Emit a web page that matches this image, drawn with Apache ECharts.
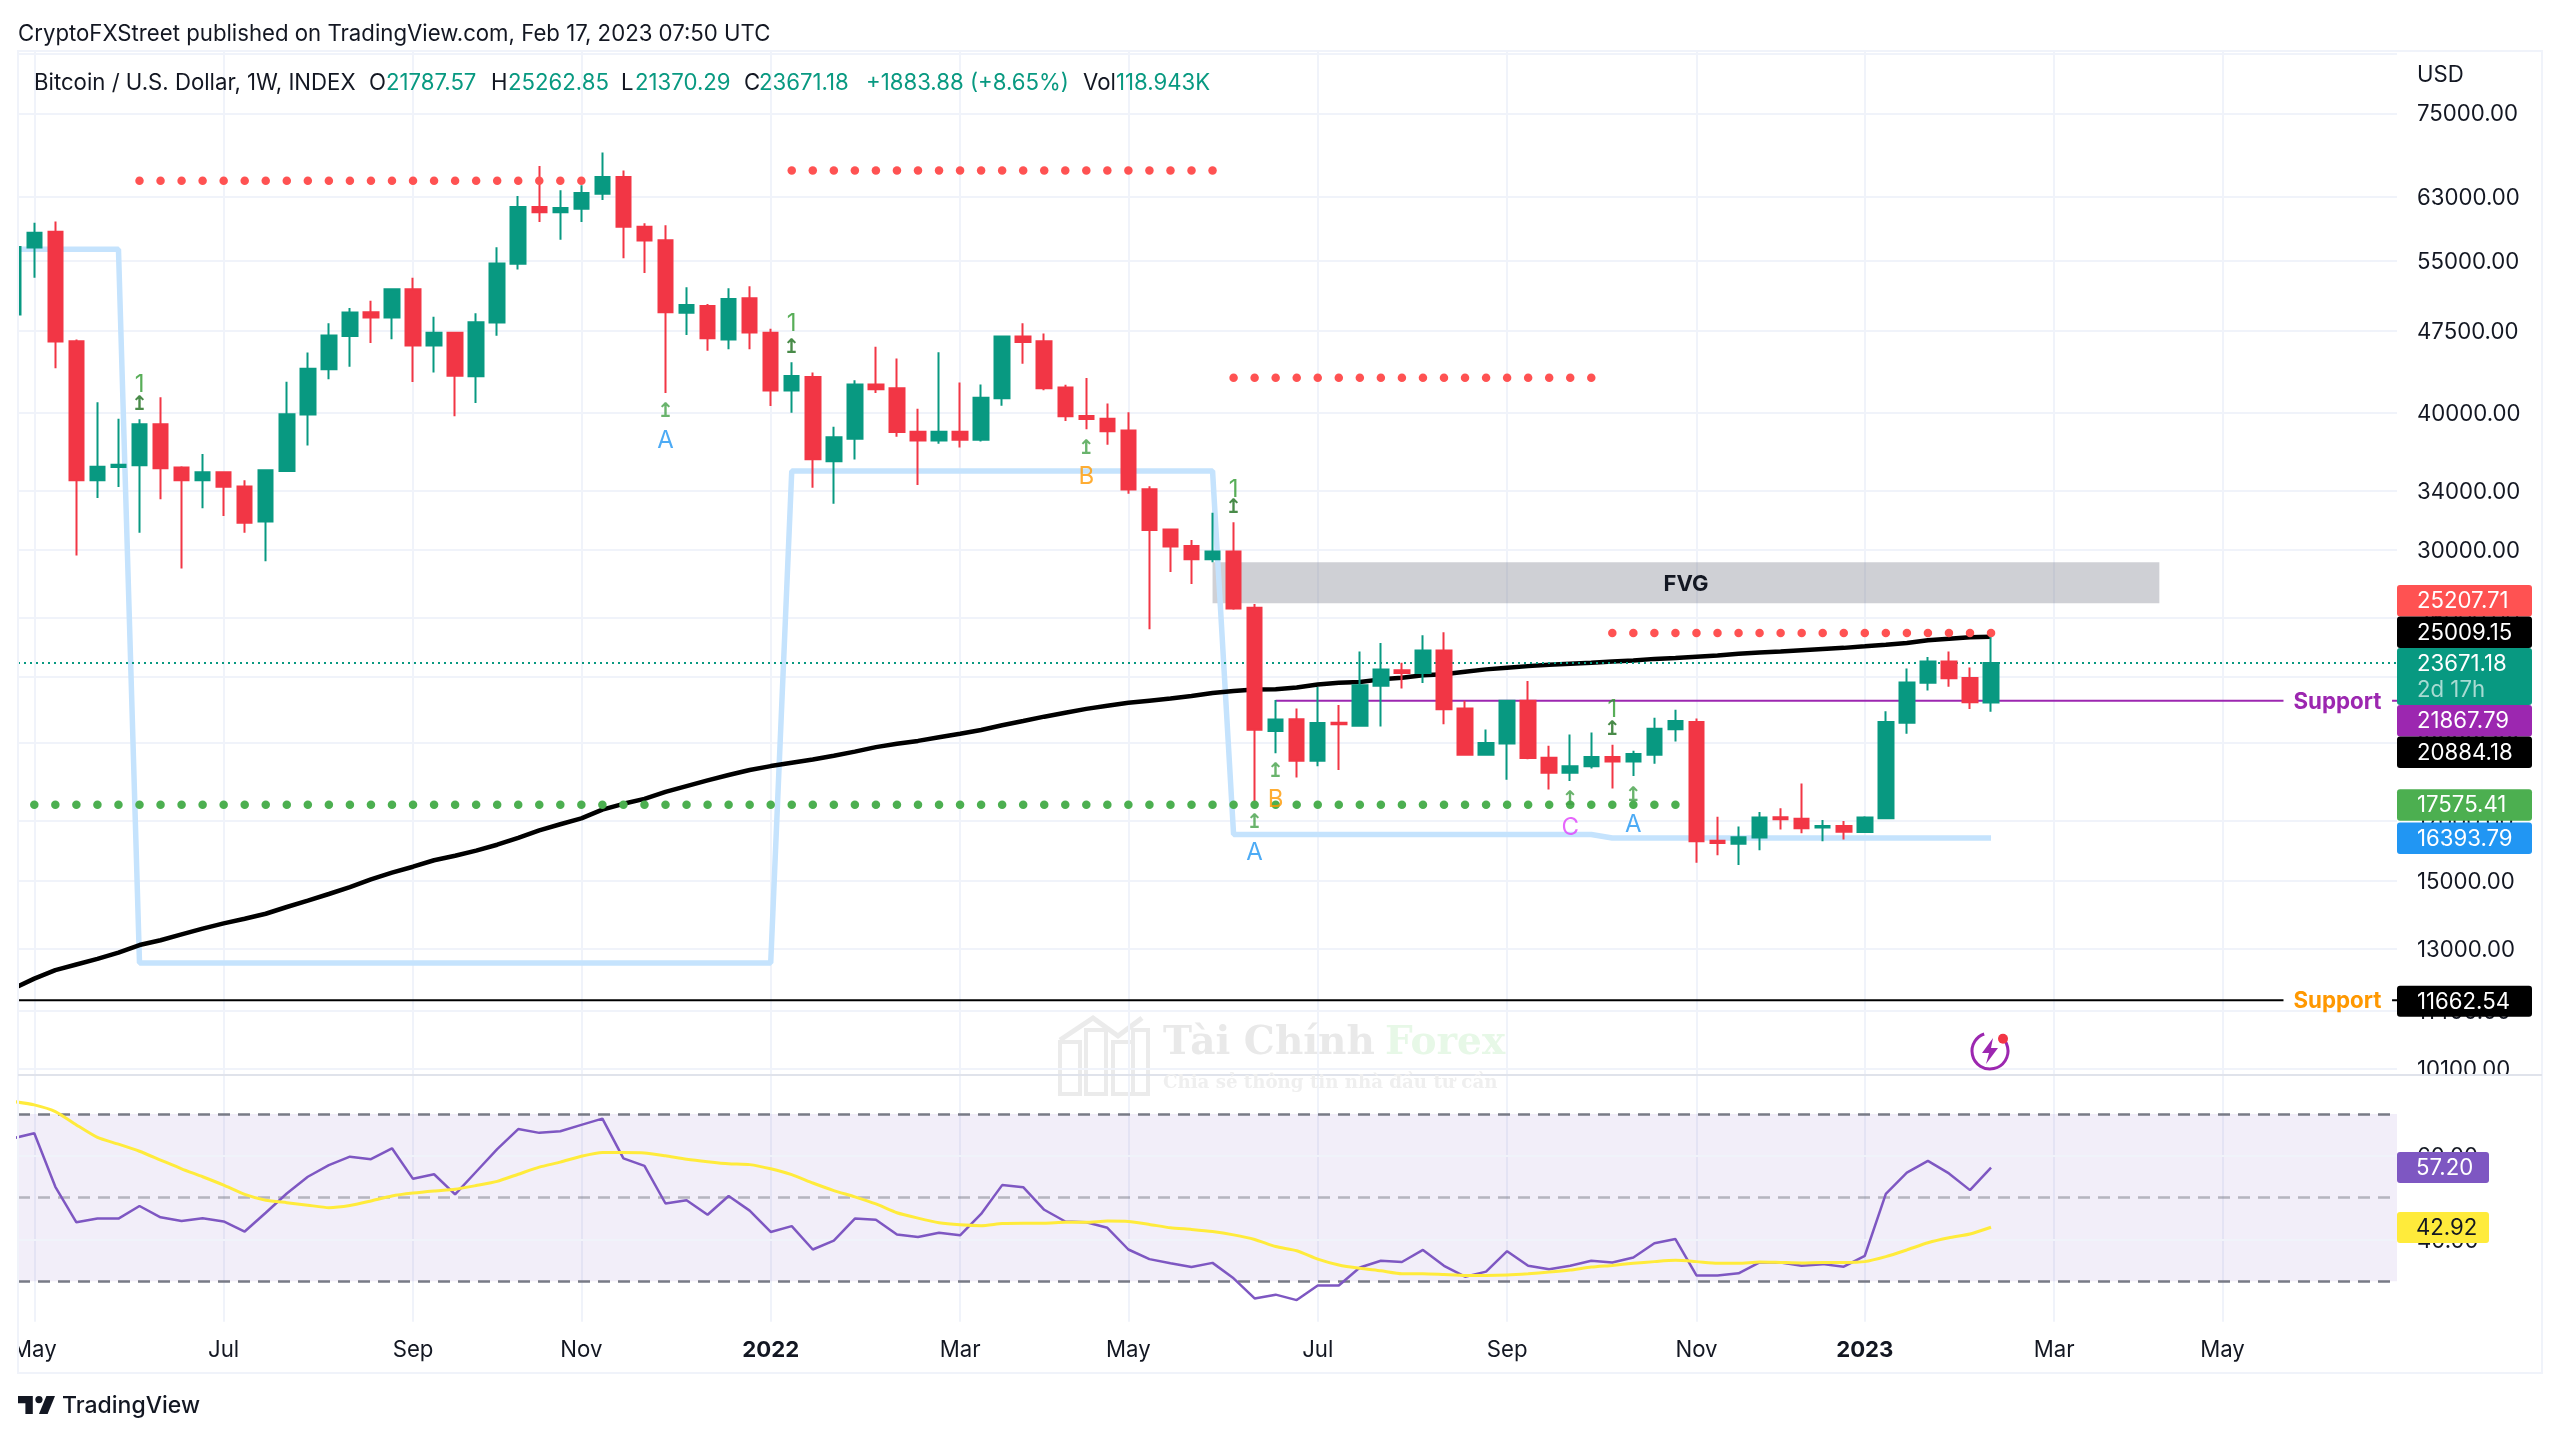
<!DOCTYPE html>
<html><head><meta charset="utf-8"><style>html,body{margin:0;padding:0;background:#fff}#c{width:2560px;height:1438px}</style>
<script src="https://cdn.jsdelivr.net/npm/echarts@6/dist/echarts.min.js"></script></head><body><div id="c"></div>
<script>
// week number: 0 = week of 3 May 2021; the first candle (-1) is cut by the left edge
const firstWeek = -1;
const opens = [49180,
56580,58500,46480,34720,35700,35830,39050,35660,34720,35310,
34280,31840,35410,39870,43830,46990,49410,48870,51840,46080,
47330,43190,48340,54690,61620,60940,61400,63360,65610,59110,
57460,49350,50050,46650,50880,47330,41920,43130,36140,37880,
42460,42130,38450,37740,38450,37800,41250,46960,46480,42190,
39730,39520,38540,34080,31310,30250,29420,29900,26580,20520,
21030,19280,20880,20750,22560,23310,23180,24290,21510,19520,
19990,21860,19400,18800,19060,19430,19250,19520,20590,20910,
16300,16200,16410,17120,17070,16760,16810,16600,17090,20880,
22710,23740,22930,21787.57];
const closes = [56640,
58380,46450,34720,35730,35880,39050,35610,34720,35310,34260,
31770,35460,39890,43880,47060,49380,48870,51840,46080,47330,
43250,48370,54730,61620,60940,61490,63450,65610,59110,57420,
49410,50150,46770,50800,47360,41920,43220,36290,38010,42460,
42030,38420,37740,38450,37800,41280,46960,46420,42130,39710,
39490,38480,34060,31280,30220,29420,29900,26540,20570,21020,
19280,20870,20810,22590,23350,23170,24290,21480,19520,20010,
21860,19390,18800,19060,19430,19250,19550,20620,20950,16280,
16220,16420,17110,17050,16730,16810,16610,17110,20910,22720,
23740,22920,21790,23671.18];
const lows = [49180,
53120,43920,29660,33450,34230,31110,33370,28850,32740,32210,
31110,29300,35330,37360,42920,44070,46320,46670,42670,43530,
39710,40830,47030,54050,59700,57510,59700,62530,55320,53640,
41710,47090,45580,45710,45710,40580,40010,34180,33050,36270,
41710,38050,34380,37500,37190,37660,40610,44340,41940,39320,
38640,37410,33760,25400,28640,27930,29240,26470,17580,19580,
18610,19060,18910,20720,20710,22430,22690,20810,19500,19500,
18520,19340,18150,18480,18970,18190,18670,19160,20070,15560,
15810,15490,15980,16690,16560,16280,16340,16580,17060,20400,
22340,22520,21490,21370.29];
const highs = [56640,
59620,59750,46650,40910,39520,39460,41340,35770,36690,35320,
34720,35510,42710,45400,48270,49850,50620,51960,53120,48940,
47430,49310,56630,63040,67130,63810,64490,69070,66500,59540,
59290,52070,50260,51960,52180,47730,44490,43530,38860,42830,
45950,44830,40340,45430,42640,42460,47060,48270,47260,42430,
43030,40800,40060,34300,31320,30640,32440,31790,26790,21900,
21510,22500,21670,24240,24680,23680,25080,25240,21860,20580,
21870,22790,19890,20370,20450,19940,19690,21100,21460,21060,
17140,16790,17310,17450,18380,17020,16990,17160,21390,23390,
23970,24240,23440,25262.85];
const blackLine = [11950,
12204,12426,12573,12720,12890,13095,13227,13391,13554,13706,
13840,13984,14184,14374,14576,14786,15032,15244,15435,15646,
15796,15965,16164,16401,16660,16872,17082,17401,17613,17794,
18058,18278,18502,18709,18906,19063,19196,19326,19483,19652,
19837,19981,20098,20255,20404,20561,20766,20954,21146,21320,
21495,21638,21769,21869,21963,22079,22224,22321,22384,22403,
22481,22626,22708,22737,22868,22950,23062,23110,23241,23352,
23434,23512,23580,23628,23676,23741,23790,23872,23920,23983,
24046,24128,24191,24240,24308,24376,24430,24510,24591,24682,
24822,24898,24984,25009.15];
const rsi = [64.2,
65.4,52.6,44.1,45.0,45.0,48.0,45.3,44.4,45.1,44.3,
41.9,46.4,51.0,55.0,57.8,59.8,59.2,61.8,54.5,55.6,
50.8,56.2,61.6,66.4,65.5,65.9,67.4,68.9,59.4,57.6,
48.6,49.4,45.9,50.4,46.9,41.8,43.2,37.6,39.7,45.0,
44.7,41.2,40.6,41.6,41.0,46.1,53.0,52.5,47.1,44.3,
44.1,42.8,37.6,35.3,34.3,33.4,34.4,30.7,25.9,26.8,
25.5,29.0,29.0,33.3,34.9,34.6,37.5,33.7,31.1,32.3,
37.2,33.7,32.9,33.7,34.9,34.5,35.7,39.1,40.1,31.4,
31.4,31.9,34.5,34.5,33.7,34.1,33.5,36.1,50.9,56.0,
58.8,55.8,51.8,57.20];
const rsiMa = [73.0,
72.2,70.6,67.4,64.4,62.8,61.1,59.0,56.9,55.0,53.0,
50.8,49.4,48.8,48.2,47.6,48.1,49.2,50.4,51.1,51.6,
52.0,52.9,53.9,55.6,57.3,58.5,59.9,60.8,60.8,60.7,
60.0,59.2,58.6,58.1,57.9,56.9,55.5,53.5,51.7,50.2,
48.5,46.4,45.1,44.0,43.5,43.3,43.8,43.9,43.9,44.1,
44.1,44.4,44.3,43.6,42.8,42.4,41.9,41.1,40.0,38.3,
37.3,35.3,33.9,33.1,32.5,31.8,31.8,31.6,31.4,31.4,
31.5,31.8,32.2,32.7,33.4,33.8,34.3,34.7,35.0,34.7,
34.3,34.3,34.6,34.5,34.4,34.5,34.5,34.7,35.9,37.5,
39.2,40.4,41.3,42.92];
const blueWeeks = [-1,4,5,35,36,56,57,74,75,93];
const blueValues = [56385,56385,12612,12612,35406,35406,16516,16516,16393.79,16393.79];
// dotted level runs: first week, last week, price
const redFrom = [5,36,57,75], redTo = [26,56,74,93], redLevel = [65110,66500,43050,25207.71];
const greenFrom = 0, greenTo = 78, greenLevel = 17575.41;
const currentPrice = 23671.18, purpleSupport = 21867.79, blackSupport = 11662.54;
const purpleFrom = 59, supportLineEnd = 106.9, supportTailStart = 112.06;
const fvgFrom = 56, fvgTo = 101, fvgLow = 26834, fvgHigh = 29240;
const noteWeeks  = [5,5,30,30,36,36,50,50,57,57,58,58,59,59,75,75,73,73,76,76];
const notePrices = [42525,40770,40222,37824,48368,45976,37193,35111,34181,32854,16962,15955,18906,17805,21538,20622,17815,16810,17970,16905];
const noteTexts  = ['1','↥','↥','A','1','↥','↥','B','1','↥','↥','A','↥','B','1','↥','↥','C','↥','A'];
const noteColors = ['#2e9a2e','#1b6e1b','#43a047','#2196f3','#2e9a2e','#1b6e1b','#43a047','#ff9800','#2e9a2e','#1b6e1b','#43a047','#2196f3','#43a047','#ff9800','#2e9a2e','#1b6e1b','#43a047','#e040fb','#43a047','#2196f3'];
const tickWeeks  = [0,9,18,26,35,44,52,61,70,79,87,96,104];
const tickLabels = ['May','Jul','Sep','Nov','2022','Mar','May','Jul','Sep','Nov','2023','Mar','May'];
const priceTicks = [75000,63000,55000,47500,40000,34000,30000,26000,23000,20000,17000,15000,13000,11400,10100];
const priceGridOnly = [85000];
const rsiTicks = [60,40];
const rsiLevels = [70,50,30];

const FONT='Inter';
const xMin=-0.775, xMax=112.295;
const weekOf=i=>i+firstWeek;
const candleData=opens.map((o,i)=>[weekOf(i),o,closes[i],lows[i],highs[i]]);
const lineOf=a=>a.map((v,i)=>[weekOf(i),v]);
const gridLine='#F0F3FA';
function hline(vals,labelled,fmt){return vals.map(v=>({yAxis:v,label:{show:labelled,formatter:fmt?fmt(v):''}}));}
const weeksBetween=(a,b)=>{const r=[];for(let w=a;w<=b;w++)r.push(w);return r;};
const redDots=[];redFrom.forEach((f,k)=>weeksBetween(f,redTo[k]).forEach(w=>redDots.push([w,redLevel[k]])));
const greenDots=weeksBetween(greenFrom,greenTo).map(w=>[w,greenLevel]);

const chart=echarts.init(document.getElementById('c'),null,{renderer:'canvas',devicePixelRatio:1});
const xBase={type:'value',min:xMin,max:xMax,axisLine:{show:false},
  axisTick:{show:false,customValues:tickWeeks},splitLine:{show:true,lineStyle:{color:gridLine,width:2}}};
// annotation text, drawn with fixed places on the sheet
const tags=[['25207.71','#ff5252',585,616.4,'#fff'],['25009.15','#000',616.4,647.9,'#fff'],['21867.79','#9c27b0',705,736.4,'#fff'],
 ['20884.18','#000',736.4,767.9,'#fff'],['17575.41','#4caf50',789.3,820.7,'#fff'],['16393.79','#2196f3',822.5,854,'#fff'],['11662.54','#000',985.7,1016.8,'#fff']];
const T=(x,y,text,fill,font,z,extra)=>Object.assign({type:'text',z:z||100,style:Object.assign({x,y,text,fill,font,align:'left',verticalAlign:'middle'},extra||{})});
const R=(x,y,w,h,fill,z,r)=>({type:'rect',z:z||100,shape:{x,y,width:w,height:h,r:r||0},style:{fill}});
const f22='22.2px '+FONT;
const g=[];
// cut-offs
g.push(R(0,1328,17,44,'#fff',90));
g.push(R(0,52,17,1023,'#fff',90));
g.push(R(2398,1076,143,24,'#fff',90));
// frame
g.push({type:'rect',z:95,shape:{x:18,y:51,width:2524,height:1322},style:{fill:'none',stroke:'#F0F3FA',lineWidth:2}});
g.push({type:'line',z:95,shape:{x1:18,y1:1075,x2:2542,y2:1075},style:{stroke:'#E0E3EB',lineWidth:2}});
// price tags
tags.forEach(t=>{g.push(R(2397,t[2],135,t[3]-t[2],t[1],100,3));g.push(T(2417,(t[2]+t[3])/2+0.7,t[0],t[4],f22,101));});
g.push(R(2397,647.9,135,57.1,'#089981',100,3));
g.push(T(2417,664,'23671.18','#fff',f22,101));
g.push(T(2417,690,'2d 17h','rgba(255,255,255,0.65)',f22,101));
g.push(R(2397,1152,92,31,'#7e57c2',100,3));g.push(T(2416,1168,'57.20','#fff',f22,101));
g.push(R(2397,1212,92,31,'#ffeb3b',100,3));g.push(T(2416,1228,'42.92','#131722',f22,101));
g.push(T(2417,75,'USD','#131722',f22,101));
// header
g.push(T(18,34.5,'CryptoFXStreet published on TradingView.com, Feb 17, 2023 07:50 UTC','#131722',f22,101));
const up='#089981',ink='#131722';
[[34,'Bitcoin / U.S. Dollar, 1W, INDEX',ink],[369,'O',ink],[386,'21787.57',up],[491,'H',ink],[508,'25262.85',up],[621,'L',ink],[635,'21370.29',up],[744,'C',ink],[759,'23671.18',up],[866,'+1883.88 (+8.65%)',up],[1083,'Vol',ink],[1116,'118.943K',up]]
 .forEach(p=>g.push(T(p[0],83.5,p[1],p[2],f22,101)));
// footer logo
const lx=v=>18+(v-2)*37/30, ly=v=>1396+(v-6)*18/15;
g.push({type:'polygon',z:101,shape:{points:[[14,6],[2,6],[2,12],[8,12],[8,21],[14,21]].map(p=>[lx(p[0]),ly(p[1])])},style:{fill:'#131722'}});
g.push({type:'polygon',z:101,shape:{points:[[26,21],[19,21],[25,6],[32,6]].map(p=>[lx(p[0]),ly(p[1])])},style:{fill:'#131722'}});
g.push({type:'circle',z:101,shape:{cx:lx(19),cy:ly(9),r:3.6},style:{fill:'#131722'}});
g.push(T(62,1406.5,'TradingView','#131722','500 23px '+FONT,101));
// watermark
g.push(T(1163,1044,'Tài Chính','#e9e9e9','bold 39px "DejaVu Serif"',0));
g.push(T(1385,1044,'Forex','#e7f8e7','bold 39px "DejaVu Serif"',0));
g.push(T(1163,1083,'Chia sẻ thông tin nhà đầu tư cần','#efefef','bold 18.2px "DejaVu Serif"',0));
[[1060,1042,20,52],[1086,1030,20,64],[1113,1042,20,52],[1133,1030,15,64]].forEach(b=>g.push({type:'rect',z:0,shape:{x:b[0],y:b[1],width:b[2],height:b[3]},style:{fill:'none',stroke:'#ebebeb',lineWidth:4}}));
g.push({type:'polyline',z:0,shape:{points:[[1060,1040],[1093,1018],[1118,1036],[1142,1018]]},style:{fill:'none',stroke:'#ebebeb',lineWidth:5}});
// lightning badge
g.push({type:'arc',z:101,shape:{cx:1990,cy:1051,r:18,startAngle:-1.0,endAngle:-1.9,clockwise:true},style:{fill:'none',stroke:'#9c27b0',lineWidth:3}});
g.push({type:'polygon',z:101,shape:{points:[[1993,1038],[1982,1053],[1989,1053],[1986,1064],[1998,1048],[1991,1048]]},style:{fill:'#9c27b0'}});
g.push({type:'circle',z:102,shape:{cx:2003,cy:1038.7,r:5},style:{fill:'#f23645'}});

chart.setOption({
 animation:false,backgroundColor:'#fff',
 textStyle:{fontFamily:FONT},
 grid:[{left:18,top:51,width:2379,height:1023.6},{left:18,top:1076,width:2379,height:245.7}],
 xAxis:[Object.assign({gridIndex:0,axisLabel:{show:false}},xBase),
  Object.assign({gridIndex:1,axisLabel:{show:true,customValues:tickWeeks,margin:18,color:'#131722',fontSize:22.2,fontFamily:FONT,hideOverlap:false,
     formatter:v=>{const s=tickLabels[tickWeeks.indexOf(Math.round(v))];return /^20/.test(s)?'{b|'+s+'}':s;},
     rich:{b:{fontWeight:'bold',fontSize:22.2,color:'#131722',fontFamily:FONT}}}},xBase)],
 yAxis:[{type:'log',logBase:10,min:9978.6,max:85470,gridIndex:0,show:false,splitLine:{show:false}},
        {type:'value',min:20.33,max:79.1,gridIndex:1,show:false,splitLine:{show:false}}],
 series:[
  {type:'line',name:'grid',data:[],xAxisIndex:0,yAxisIndex:0,z:0,silent:true,
   markLine:{silent:true,symbol:'none',z:0,lineStyle:{color:gridLine,width:2,type:'solid'},
    label:{position:'end',distance:20,fontSize:22.2,color:'#131722',fontFamily:FONT,offset:[0,1.5]},
    data:hline(priceGridOnly,false).concat(hline(priceTicks,true,v=>v.toFixed(2)))},
   markArea:{silent:true,z:1,itemStyle:{color:'rgba(117,119,135,0.35)'},
    label:{show:true,position:'inside',formatter:'FVG',color:'#131722',fontWeight:'bold',fontSize:22,fontFamily:FONT,offset:[0,1.5]},
    data:[[{xAxis:fvgFrom,yAxis:fvgLow},{xAxis:fvgTo,yAxis:fvgHigh}]]}},
  {type:'line',name:'Blue',data:blueWeeks.map((w,i)=>[w,blueValues[i]]),showSymbol:false,z:2,lineStyle:{color:'#c5e3fd',width:5.5},silent:true},
  {type:'line',name:'Black',data:lineOf(blackLine),showSymbol:false,z:3,lineStyle:{color:'#000',width:4.5},silent:true},
  {type:'line',name:'Price',data:[[xMin,currentPrice],[xMax,currentPrice]],showSymbol:false,z:3,lineStyle:{color:'#089981',width:2,type:[2,4]},silent:true},
  {type:'line',name:'Purple support',data:[[purpleFrom,purpleSupport],[supportLineEnd,purpleSupport]],showSymbol:false,z:3,lineStyle:{color:'#9c27b0',width:2},silent:true,
   endLabel:{show:true,formatter:'Support',color:'#9c27b0',fontWeight:'bold',fontSize:22.3,fontFamily:FONT,distance:10,offset:[0,1.5]}},
  {type:'line',name:'Purple tail',data:[[supportTailStart,purpleSupport],[xMax,purpleSupport]],showSymbol:false,z:3,lineStyle:{color:'#9c27b0',width:2},silent:true},
  {type:'line',name:'Black support',data:[[xMin,blackSupport],[supportLineEnd,blackSupport]],showSymbol:false,z:3,lineStyle:{color:'#000',width:2},silent:true,
   endLabel:{show:true,formatter:'Support',color:'#ff9800',fontWeight:'bold',fontSize:22.3,fontFamily:FONT,distance:10,offset:[0,1.5]}},
  {type:'line',name:'Black tail',data:[[supportTailStart,blackSupport],[xMax,blackSupport]],showSymbol:false,z:3,lineStyle:{color:'#000',width:2},silent:true},
  {type:'candlestick',name:'BTCUSD',data:candleData,encode:{x:0,y:[1,2,3,4]},barWidth:15,z:5,silent:true,
   itemStyle:{color:'#089981',color0:'#F23645',borderColor:'#089981',borderColor0:'#F23645',borderWidth:2}},
  {type:'scatter',name:'Red levels',data:redDots,symbolSize:8.5,z:6,silent:true,itemStyle:{color:'#ff5252',opacity:1}},
  {type:'scatter',name:'Green level',data:greenDots,symbolSize:8.5,z:6,silent:true,itemStyle:{color:'#4caf50',opacity:1}},
  {type:'scatter',name:'Notes',symbolSize:1,z:7,silent:true,itemStyle:{color:'rgba(0,0,0,0)'},
   data:noteWeeks.map((w,i)=>({value:[w,notePrices[i]],label:{show:true,position:'inside',formatter:noteTexts[i],color:noteColors[i],offset:[0,1.5],
     fontSize:noteTexts[i]==='↥'?20:24,fontFamily:noteTexts[i]==='↥'?'DejaVu Sans':FONT,fontWeight:noteTexts[i]==='↥'?'bold':'normal'}}))},
  {type:'line',name:'RSI levels',data:[],xAxisIndex:1,yAxisIndex:1,z:1,silent:true,
   markArea:{silent:true,z:1,itemStyle:{color:'rgba(126,87,194,0.1)'},data:[[{xAxis:xMin,yAxis:rsiLevels[2]},{xAxis:xMax,yAxis:rsiLevels[0]}]]},
   markLine:{silent:true,symbol:'none',z:2,lineStyle:{color:'#787b86',width:2.5,type:[12,8]},
    label:{show:false},
    data:[{yAxis:rsiLevels[0]},{yAxis:rsiLevels[1],lineStyle:{color:'rgba(120,123,134,0.5)'}},{yAxis:rsiLevels[2]}]}},
  {type:'line',name:'RSI ticks',data:[],xAxisIndex:1,yAxisIndex:1,z:1,silent:true,
   markLine:{silent:true,symbol:'none',z:1,lineStyle:{color:gridLine,width:2,type:'solid'},
    label:{position:'end',distance:20,fontSize:22.2,color:'#131722',fontFamily:FONT,offset:[0,1.5]},
    data:hline(rsiTicks,true,v=>v.toFixed(2))}},
  {type:'line',name:'RSI',data:lineOf(rsi),xAxisIndex:1,yAxisIndex:1,showSymbol:false,z:4,lineStyle:{color:'#7e57c2',width:2.5},silent:true},
  {type:'line',name:'RSI MA',data:lineOf(rsiMa),xAxisIndex:1,yAxisIndex:1,showSymbol:false,z:4,smooth:0.2,lineStyle:{color:'#ffeb3b',width:3},silent:true}
 ],
 graphic:g
});
</script></body></html>
